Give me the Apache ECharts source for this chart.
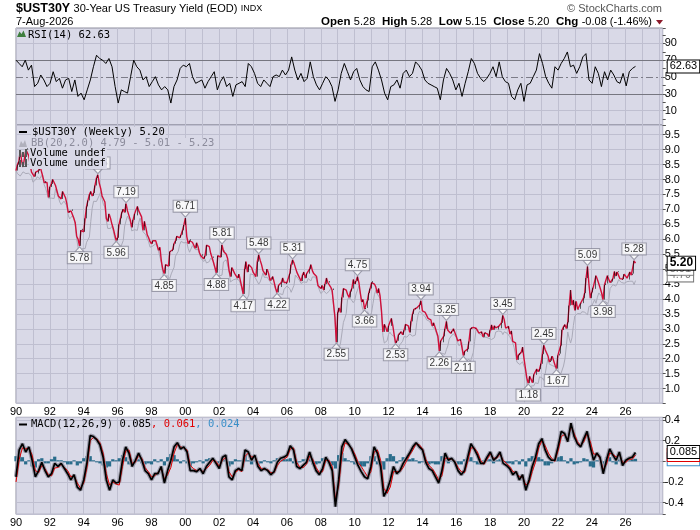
<!DOCTYPE html>
<html><head><meta charset="utf-8">
<script src="https://cdn.jsdelivr.net/npm/echarts@6/dist/echarts.min.js"></script>
<style>html,body{margin:0;padding:0;background:#fff}#c{width:700px;height:530px}</style>
</head><body><div id="c"></div>
<script>
// ---------------- data ----------------
const START_YEAR = 1990;
const LAST_DATE = 2026 + 7 / 12;           // Aug 2026
const X_DOMAIN = [1990, 2028.19];

// month-end yields, Jan 1990 .. Aug 2026
const monthlyClose = [
 8.30,8.50,8.60,8.95,8.62,8.42,8.45,9.00,9.05,8.80,8.50,8.25,
 8.20,8.10,8.25,8.20,8.30,8.45,8.40,8.10,7.90,7.95,7.90,7.40,
 7.75,7.85,8.00,7.95,7.80,7.80,7.45,7.40,7.35,7.60,7.60,7.40,
 7.20,6.90,6.95,6.95,7.00,6.70,6.55,6.10,6.00,5.78,6.30,6.35,
 6.25,6.70,7.10,7.30,7.50,7.60,7.45,7.55,7.80,8.05,8.16,7.88,
 7.70,7.45,7.40,7.25,6.70,6.60,6.85,6.70,6.50,6.35,6.15,5.96,
 6.05,6.50,6.70,6.90,7.00,6.90,7.19,6.95,6.95,6.65,6.40,6.65,
 6.85,6.80,7.10,6.95,6.90,6.75,6.30,6.60,6.40,6.15,6.05,5.92,
 5.85,5.95,5.95,5.95,5.80,5.63,5.73,5.27,5.00,4.85,5.15,5.10,
 5.10,5.58,5.60,5.65,5.85,5.95,6.10,6.05,6.05,6.15,6.30,6.48,
 6.71,6.10,5.85,5.95,6.00,5.90,5.80,5.70,5.88,5.75,5.55,5.45,
 5.50,5.35,5.45,5.80,5.75,5.75,5.52,5.38,5.42,5.05,4.88,5.45,
 5.45,5.40,5.81,5.60,5.62,5.50,5.35,4.95,4.75,5.05,5.05,4.85,
 4.85,4.70,4.83,4.80,4.40,4.17,5.00,5.25,4.90,5.15,5.10,5.05,
 4.90,4.85,4.75,5.25,5.48,5.30,5.15,4.95,4.90,4.80,5.00,4.85,
 4.62,4.65,4.75,4.55,4.35,4.22,4.45,4.40,4.55,4.70,4.55,4.50,
 4.55,4.55,4.85,5.15,5.31,5.20,5.05,4.90,4.80,4.75,4.60,4.80,
 4.90,4.70,4.85,4.85,5.00,5.15,4.95,4.85,4.85,4.75,4.45,4.45,
 4.35,4.45,4.30,4.50,4.70,4.55,4.60,4.40,4.30,4.35,3.40,2.55,
 3.55,3.70,3.55,4.05,4.35,4.30,4.30,4.15,4.05,4.25,4.35,4.65,
 4.50,4.60,4.75,4.55,4.20,3.90,3.98,3.66,3.70,3.95,4.20,4.35,
 4.55,4.60,4.50,4.40,4.20,4.35,4.10,3.60,2.90,3.15,3.05,2.90,
 3.10,3.10,3.35,3.12,2.80,2.53,2.60,2.80,2.85,2.90,2.80,2.95,
 3.15,3.10,3.10,2.88,3.25,3.50,3.65,3.70,3.70,3.65,3.80,3.94,
 3.60,3.60,3.55,3.45,3.35,3.35,3.30,3.10,3.20,3.05,2.90,2.75,
 2.26,2.60,2.55,2.75,3.00,3.25,2.95,2.95,2.85,2.92,3.00,3.00,
 2.75,2.60,2.60,2.65,2.65,2.11,2.25,2.23,2.32,2.58,3.00,3.05,
 3.05,3.00,3.02,2.95,2.86,2.84,2.90,2.73,2.86,2.88,2.83,2.74,
 2.95,3.13,2.97,3.10,3.03,2.98,3.08,3.02,3.20,3.45,3.30,3.02,
 3.00,3.08,2.82,2.93,2.58,2.53,2.53,1.96,2.12,2.18,2.21,2.39,
 2.00,1.68,1.35,1.18,1.41,1.41,1.20,1.47,1.46,1.65,1.57,1.65,
 1.83,2.15,2.45,2.30,2.29,2.09,1.89,1.93,2.08,1.93,1.78,1.67,
 2.11,2.17,2.44,2.96,3.07,3.14,3.01,3.22,3.78,4.30,3.80,3.96,
 3.62,3.92,3.65,3.67,3.85,3.86,4.02,4.20,4.70,5.09,4.50,4.03,
 4.22,4.38,4.34,4.78,4.65,4.51,4.36,4.20,3.98,4.47,4.52,4.78,
 4.79,4.55,4.58,4.68,4.92,4.77,4.90,4.93,4.68,4.64,4.67,4.83,
 4.80,4.70,4.65,4.90,4.80,4.85,5.28,5.20
];

const peakDates   = ['1994-11','1996-07','2000-01','2002-03','2004-05','2006-05','2010-03','2013-12','2015-06','2018-10','2021-03','2023-10','2026-07'];
const peakValues  = [8.16,7.19,6.71,5.81,5.48,5.31,4.75,3.94,3.25,3.45,2.45,5.09,5.28];
const troughDates = ['1993-10','1995-12','1998-10','2001-11','2003-06','2005-06','2008-12','2010-08','2012-06','2015-01','2016-06','2020-04','2021-12','2024-09'];
const troughValues= [5.78,5.96,4.85,4.88,4.17,4.22,2.55,3.66,2.53,2.26,2.11,1.18,1.67,3.98];

const rsi14 = [
 70.0,66.1,62.2,70.0,58.2,64.1,38.6,42.5,52.4,46.5,38.6,42.5,56.3,44.5,48.4,36.7,46.5,48.4,32.7,46.5,
 26.9,30.8,22.9,34.7,46.5,62.2,75.9,72.0,70.0,66.1,72.0,62.2,38.6,19.0,34.7,32.7,30.8,50.4,70.0,62.2,
 58.2,46.5,50.4,38.6,44.5,50.4,40.6,34.7,38.6,34.7,19.0,38.6,46.5,60.2,64.1,62.2,66.1,50.4,42.5,44.5,
 46.5,36.7,44.5,50.4,56.3,34.7,44.5,50.4,38.6,42.5,26.9,40.6,42.5,44.5,38.6,66.1,62.2,54.3,42.5,38.6,
 46.5,42.5,38.6,50.4,52.4,50.4,58.2,52.4,58.2,73.9,58.2,46.5,54.3,44.5,48.4,68.0,50.4,40.6,34.7,42.5,
 50.4,46.5,38.6,21.0,34.7,54.3,66.1,56.3,46.5,
 56.3,60.2,46.5,38.6,34.7,32.7,62.2,68.0,58.2,46.5,30.8,22.9,38.6,40.6,46.5,36.7,54.3,58.2,50.4,54.3,
 68.0,64.1,58.2,46.5,42.5,40.6,38.6,36.7,22.9,46.5,60.2,54.3,46.5,34.7,42.5,26.9,42.5,56.3,72.0,66.1,
 54.3,48.4,44.5,48.4,54.3,62.2,50.4,68.0,50.4,44.5,42.5,26.9,22.9,34.7,42.5,21.0,40.6,42.5,50.4,58.2,
 77.8,66.1,50.4,42.5,36.7,62.2,58.2,66.1,72.0,79.8,62.2,64.1,54.3,62.2,73.9,77.8,46.5,42.5,62.2,54.3,
 38.6,56.3,46.5,58.2,52.4,44.5,42.5,54.3,39.4,56.3,60.2,62.63
];
const rsiGuides = [10, 90];
const rsiBands = [30, 70];
const rsiCenter = [50];

const macdLine = [
 -0.15,0.11,0.17,0.09,0.14,0.01,-0.15,-0.09,-0.01,-0.09,-0.15,-0.12,-0.02,-0.05,-0.02,-0.07,-0.12,-0.18,-0.13,-0.25,
 -0.28,-0.18,-0.01,0.25,0.24,0.21,0.16,0.04,-0.18,-0.28,-0.18,-0.21,-0.20,0.01,0.14,0.08,-0.05,0.01,0.08,0.01,
 -0.09,-0.12,-0.18,-0.12,-0.12,-0.05,-0.21,-0.09,0.01,0.14,0.18,0.12,0.14,0.09,-0.09,-0.09,-0.10,-0.07,-0.12,-0.05,
 -0.01,0.03,-0.02,-0.07,0.04,0.06,-0.15,-0.18,-0.09,-0.07,-0.09,0.11,0.09,0.01,0.06,-0.05,-0.09,-0.07,-0.09,-0.13,
 -0.10,-0.01,0.03,0.04,0.06,0.15,0.11,-0.05,-0.07,-0.04,-0.01,0.09,-0.01,-0.09,-0.13,-0.07,0.04,-0.01,-0.09,-0.44,
 -0.18,0.14,0.21,0.17,
 0.12,0.04,-0.04,-0.10,-0.15,-0.17,-0.05,0.14,0.08,-0.05,-0.34,-0.28,-0.18,-0.05,-0.12,-0.09,-0.02,0.03,0.08,0.14,
 0.18,0.14,0.11,-0.01,-0.07,-0.09,-0.15,-0.21,-0.09,0.08,0.01,0.03,-0.01,-0.09,-0.13,-0.09,0.04,0.17,0.12,0.06,
 -0.02,-0.02,0.04,0.09,0.01,0.04,0.09,-0.02,-0.04,-0.07,-0.13,-0.10,-0.18,-0.13,-0.28,-0.18,-0.05,0.04,0.17,0.22,
 0.11,0.04,0.01,0.01,0.14,0.29,0.27,0.19,0.37,0.24,0.17,0.14,0.22,0.29,0.14,0.01,0.08,0.04,-0.12,0.01,
 0.12,0.06,0.01,0.09,-0.04,0.01,0.03,0.04,0.085
];
const macdHist = [
 0.05,0.09,0.04,-0.03,0.01,-0.05,-0.06,0.02,0.03,-0.02,-0.02,0.02,0.045,0.01,0.01,-0.01,-0.03,-0.03,0.01,-0.04,
 -0.02,0.03,0.05,0.05,0.01,-0.01,-0.02,-0.04,-0.06,-0.05,0.02,0.01,0.03,0.06,0.04,-0.03,-0.03,0.02,0.02,-0.02,
 -0.03,-0.02,-0.03,0.02,-0.01,0.02,-0.04,0.04,0.07,0.06,0.02,-0.02,0.01,-0.02,-0.05,-0.02,-0.01,0.01,-0.02,0.02,
 0.03,0.02,-0.02,-0.02,0.03,0.02,-0.05,-0.03,0.02,0.01,0.01,0.06,0.01,-0.03,0.01,-0.03,-0.02,0.01,-0.01,-0.02,
 0.01,0.03,0.03,0.02,0.02,0.03,-0.02,-0.04,-0.01,0.02,0.02,0.04,-0.03,-0.03,-0.02,0.03,0.03,-0.02,-0.04,-0.07,
 0.06,0.08,0.03,0.01,
 -0.01,-0.03,-0.03,-0.05,-0.05,-0.02,0.05,0.05,-0.03,-0.06,-0.08,0.03,0.07,0.05,-0.02,0.01,0.04,0.03,0.02,0.03,
 0.01,-0.02,-0.01,-0.03,-0.03,-0.02,-0.03,-0.03,0.05,0.05,-0.02,0.01,-0.01,-0.03,-0.03,0.02,0.04,0.04,-0.01,-0.03,
 -0.03,0.01,0.02,0.02,-0.02,0.01,0.02,-0.03,-0.02,-0.02,-0.03,0.01,-0.03,0.02,-0.05,0.03,0.05,0.05,0.04,0.02,
 -0.04,-0.04,-0.02,0.01,0.04,0.05,0.01,-0.02,0.03,-0.03,-0.02,-0.01,0.03,0.02,-0.05,-0.06,0.01,0.01,-0.04,0.04,
 0.04,-0.01,-0.03,0.02,-0.03,0.02,0.01,0.02,0.024
];

const lastBar = [5.28, 5.28, 5.15, 5.20];   // open high low close
const lastChange = [-0.08, -1.46];
const bbLegend = [4.79, 5.01, 5.23];        // lower, mid, upper
const macdLegend = [0.085, 0.061, 0.024];   // macd, signal, histogram
const rsiLast = 62.63;

// ---------------- derived ----------------
const monthX = i => START_YEAR + i / 12;
const dateX = s => { const p = s.split('-').map(Number); return p[0] + (p[1] - 1) / 12; };
const spread = arr => arr.map((v, i) => [START_YEAR + i * (LAST_DATE - START_YEAR) / (arr.length - 1), v]);

const closeData = monthlyClose.map((c, i) => [monthX(i), c]);
const candles = monthlyClose.map((c, i) => {
  const o = i ? monthlyClose[i - 1] : c;
  return [monthX(i), o, c, Math.min(o, c), Math.max(o, c)];
});
const bbLow = [], bbSpan = [];
monthlyClose.forEach((c, i) => {
  const w = monthlyClose.slice(Math.max(0, i - 4), i + 1);
  const m = w.reduce((a, b) => a + b, 0) / w.length;
  const sd = Math.sqrt(w.reduce((a, b) => a + (b - m) * (b - m), 0) / w.length);
  bbLow.push([monthX(i), m - 2 * sd]);
  bbSpan.push([monthX(i), 4 * sd]);
});
const peaks = peakDates.map((d, i) => [dateX(d), peakValues[i]]);
const troughs = troughDates.map((d, i) => [dateX(d), troughValues[i]]);
const macdData = spread(macdLine);
const histData = spread(macdHist);
const signalData = macdLine.map((v, i) => [macdData[i][0], +(v - macdHist[i]).toFixed(4)]);
const rsiData = spread(rsi14);

// ---------------- styles ----------------
const SANS = '"Liberation Sans", Arial, sans-serif';
const MONO = '"DejaVu Sans Mono", monospace';
const BG = '#d9d9e7', GRID = '#bfbfd0', BORDER = '#8e8e9e';
const RED = '#d0103a';

const chart = echarts.init(document.getElementById('c'), null, {renderer: 'canvas'});

const mkX = (gi, labels) => ({
  type: 'value', gridIndex: gi, min: X_DOMAIN[0], max: X_DOMAIN[1], interval: 1,
  axisLine: {show: false}, axisTick: {show: false},
  splitLine: {show: true, lineStyle: {color: GRID, width: 1}},
  axisLabel: {show: labels, margin: 3, fontSize: 11, color: '#000', fontFamily: SANS,
    showMaxLabel: false, showMinLabel: true,
    formatter: v => (Number.isInteger(v) && v % 2 === 0 && v < 2028) ? String(v % 100).padStart(2, '0') : ''}
});
const yCommon = {
  type: 'value', position: 'right',
  axisLine: {show: false},
  axisTick: {show: true, length: 3, lineStyle: {color: '#555'}},
};
const tag = (v, txt, color, bold) => ({
  yAxis: v, lineStyle: {color: 'transparent', width: 0},
  label: {show: true, position: 'end', distance: 5, formatter: txt,
    backgroundColor: '#fff', borderColor: color, borderWidth: 1, padding: [1, 2, 0, 2],
    color: color, fontSize: bold ? 12 : 11, fontWeight: bold ? 'bold' : 'normal', fontFamily: SANS}
});
const guide = (v, color, type) => ({yAxis: v, lineStyle: {color: color, width: 1, type: type || 'solid'}, label: {show: false}});
const swingLabel = {
  show: true, formatter: p => p.value[1].toFixed(2),
  backgroundColor: '#fff', borderColor: '#8a8a9a', borderWidth: 1, padding: [1, 2, 0, 2],
  fontSize: 10, lineHeight: 10, fontFamily: SANS, color: '#000'
};

const option = {
  animation: false,
  backgroundColor: '#fff',
  grid: [
    {left: 16, right: 37.3, top: 28, height: 97, show: true, backgroundColor: BG, borderColor: BORDER, borderWidth: 1},
    {left: 16, right: 37.3, top: 125, height: 278.3, show: true, backgroundColor: BG, borderColor: BORDER, borderWidth: 1},
    {left: 16, right: 37.3, top: 417.3, height: 97, show: true, backgroundColor: BG, borderColor: BORDER, borderWidth: 1}
  ],
  xAxis: [mkX(0, false), mkX(1, true), mkX(2, true)],
  yAxis: [
    Object.assign({}, yCommon, {gridIndex: 0, min: -7.1, max: 108.3, splitNumber: 11, minInterval: 10, maxInterval: 10,
      splitLine: {show: false},
      axisLabel: {margin: 2, fontSize: 11, color: '#000', fontFamily: SANS,
        formatter: v => ([10, 30, 50, 70, 90].indexOf(Math.round(v)) >= 0 && Math.abs(v - Math.round(v)) < 1e-6) ? String(Math.round(v)) : ''}}),
    Object.assign({}, yCommon, {gridIndex: 1, min: 0.507, max: 9.826, splitNumber: 19, minInterval: 0.5, maxInterval: 0.5,
      splitLine: {show: true, lineStyle: {color: GRID}},
      axisLabel: {margin: 2, fontSize: 11, color: '#000', fontFamily: SANS,
        formatter: v => Math.abs(v * 2 - Math.round(v * 2)) < 1e-6 ? v.toFixed(1) : ''}}),
    Object.assign({}, yCommon, {gridIndex: 2, min: -0.513, max: 0.426, splitNumber: 5, minInterval: 0.2, maxInterval: 0.2,
      splitLine: {show: true, lineStyle: {color: GRID}},
      axisLabel: {margin: 2, fontSize: 11, color: '#000', fontFamily: SANS,
        formatter: v => (Math.abs(v) < 1e-9 || Math.abs(v * 5 - Math.round(v * 5)) > 1e-6) ? '' : v.toFixed(1)}})
  ],
  series: [
    {type: 'line', name: 'RSI', xAxisIndex: 0, yAxisIndex: 0, data: rsiData, symbol: 'none',
      lineStyle: {color: '#000', width: 1}, silent: true, z: 3,
      markLine: {silent: true, symbol: 'none', animation: false, z: 2, data: [
        ...rsiGuides.map(v => guide(v, GRID)),
        ...rsiBands.map(v => guide(v, '#767680')),
        ...rsiCenter.map(v => guide(v, '#7c7c88', [7, 3, 2, 3])),
        tag(rsiLast, rsiLast.toFixed(2), '#000', false)
      ]}},
    {type: 'line', name: 'bbLow', xAxisIndex: 1, yAxisIndex: 1, data: bbLow, stack: 'bb', symbol: 'none',
      lineStyle: {color: '#aaaab8', width: 1}, silent: true, z: 1},
    {type: 'line', name: 'bbBand', xAxisIndex: 1, yAxisIndex: 1, data: bbSpan, stack: 'bb', symbol: 'none',
      lineStyle: {color: '#aaaab8', width: 1}, areaStyle: {color: '#c4c4cd', opacity: 1}, silent: true, z: 1},
    {type: 'line', name: 'close', xAxisIndex: 1, yAxisIndex: 1, data: closeData, symbol: 'none',
      lineStyle: {color: RED, width: 1.4}, silent: true, z: 3},
    {type: 'candlestick', name: 'upBars', xAxisIndex: 1, yAxisIndex: 1, data: candles,
      encode: {x: 0, y: [1, 2, 3, 4]}, barWidth: 1.2, silent: true, z: 4,
      itemStyle: {color: '#000', color0: 'transparent', borderColor: '#000', borderColor0: 'transparent', borderWidth: 0.6},
      markLine: {silent: true, symbol: 'none', animation: false, data: [
        tag(bbLegend[0], bbLegend[0].toFixed(2), '#777', false),
        tag(bbLegend[1], bbLegend[1].toFixed(2), '#777', false),
        tag(lastBar[3], lastBar[3].toFixed(2), '#000', true)
      ]}},
    {type: 'scatter', name: 'peaks', xAxisIndex: 1, yAxisIndex: 1, data: peaks, z: 5, silent: true,
      symbol: 'path://M0,0L10,0L5,6Z', symbolSize: [9, 5], symbolOffset: [0, -3.5],
      itemStyle: {color: '#fff', borderColor: '#8a8a9a', borderWidth: 1},
      label: Object.assign({}, swingLabel, {position: 'top', distance: 0})},
    {type: 'scatter', name: 'troughs', xAxisIndex: 1, yAxisIndex: 1, data: troughs, z: 5, silent: true,
      symbol: 'path://M5,0L10,6L0,6Z', symbolSize: [9, 5], symbolOffset: [0, 3.5],
      itemStyle: {color: '#fff', borderColor: '#8a8a9a', borderWidth: 1},
      label: Object.assign({}, swingLabel, {position: 'bottom', distance: 0})},
    {type: 'bar', name: 'hist', xAxisIndex: 2, yAxisIndex: 2, data: histData, barWidth: '100%',
      itemStyle: {color: '#2a6d8c'}, silent: true, z: 1},
    {type: 'line', name: 'halo', xAxisIndex: 2, yAxisIndex: 2, data: macdData, symbol: 'none',
      lineStyle: {color: '#9c9cab', width: 4}, silent: true, z: 2},
    {type: 'line', name: 'signal', xAxisIndex: 2, yAxisIndex: 2, data: signalData, symbol: 'none',
      lineStyle: {color: '#e00000', width: 1}, silent: true, z: 3},
    {type: 'line', name: 'macd', xAxisIndex: 2, yAxisIndex: 2, data: macdData, symbol: 'none',
      lineStyle: {color: '#000', width: 1.7}, silent: true, z: 4,
      markLine: {silent: true, symbol: 'none', animation: false, data: [
        tag(macdLegend[2], macdLegend[2].toFixed(3), '#3a8fc8', false),
        tag(macdLegend[1], macdLegend[1].toFixed(3), '#e00000', false),
        tag(macdLegend[0], macdLegend[0].toFixed(3), '#000', false)
      ]}}
  ],
  graphic: [
    {type: 'text', z: 100, style: {x: 16, y: 9, align: 'left', verticalAlign: 'middle', textAlign: 'left', textVerticalAlign: 'middle',
      text: '{t|$UST30Y} {s|30-Year US Treasury Yield (EOD)} {i|INDX}',
      rich: {t: {font: 'bold 12.5px ' + SANS, fill: '#000'}, s: {font: '11px ' + SANS, fill: '#000'}, i: {font: '9px ' + SANS, fill: '#000'}}}},
    {type: 'text', z: 100, style: {x: 16, y: 22, align: 'left', verticalAlign: 'middle', textAlign: 'left', textVerticalAlign: 'middle',
      text: '7-Aug-2026', font: '11px ' + SANS, fill: '#000'}},
    {type: 'text', z: 100, style: {x: 662, y: 9, align: 'right', verticalAlign: 'middle', textAlign: 'right', textVerticalAlign: 'middle',
      text: '\u00A9 StockCharts.com', font: '11px ' + SANS, fill: '#555'}},
    {type: 'text', z: 100, style: {x: 652, y: 22, align: 'right', verticalAlign: 'middle', textAlign: 'right', textVerticalAlign: 'middle',
      text: '{b|Open} {v|' + lastBar[0].toFixed(2) + '}  {b|High} {v|' + lastBar[1].toFixed(2) + '}  {b|Low} {v|' + lastBar[2].toFixed(2) +
        '}  {b|Close} {v|' + lastBar[3].toFixed(2) + '}  {b|Chg} {v|' + lastChange[0].toFixed(2) + ' (' + lastChange[1].toFixed(2) + '%)}',
      rich: {b: {font: 'bold 11.5px ' + SANS, fill: '#000'}, v: {font: '11px ' + SANS, fill: '#000'}}}},
    {type: 'polygon', z: 100, shape: {points: [[656, 20], [663, 20], [659.5, 24.5]]}, style: {fill: '#8b1a2a'}},

    // RSI legend
    {type: 'polygon', z: 100, shape: {points: [[17, 37], [19.5, 31.5], [21.5, 34], [23.5, 30.5], [26, 37]]}, style: {fill: '#3f7f3f'}},
    {type: 'text', z: 100, style: {x: 28, y: 35, align: 'left', verticalAlign: 'middle', textAlign: 'left', textVerticalAlign: 'middle',
      text: 'RSI(14) ' + rsiLast.toFixed(2), font: '10.5px ' + MONO, fill: '#000'}},

    // price legend
    {type: 'rect', z: 100, shape: {x: 19, y: 131, width: 8, height: 2}, style: {fill: '#000'}},
    {type: 'text', z: 100, style: {x: 31, y: 132.5, align: 'left', verticalAlign: 'middle', textAlign: 'left', textVerticalAlign: 'middle',
      text: '$UST30Y (Weekly) ' + lastBar[3].toFixed(2), font: '10.5px ' + MONO, fill: '#000', backgroundColor: BG, padding: [0, 1]}},
    {type: 'polygon', z: 100, shape: {points: [[19, 147], [21, 141], [23, 144], [25, 140], [27, 147]]}, style: {fill: '#b0b0bc'}},
    {type: 'text', z: 100, style: {x: 30, y: 143.5, align: 'left', verticalAlign: 'middle', textAlign: 'left', textVerticalAlign: 'middle',
      text: 'BB(20,2.0) ' + bbLegend[0].toFixed(2) + ' - ' + bbLegend[1].toFixed(2) + ' - ' + bbLegend[2].toFixed(2),
      font: '10.5px ' + MONO, fill: '#8c8c9c', backgroundColor: BG, padding: [0, 1]}},
    {type: 'rect', z: 100, shape: {x: 19, y: 150, width: 2, height: 7}, style: {fill: '#555'}},
    {type: 'rect', z: 100, shape: {x: 22, y: 152, width: 2, height: 5}, style: {fill: '#555'}},
    {type: 'rect', z: 100, shape: {x: 25, y: 149, width: 2, height: 8}, style: {fill: '#555'}},
    {type: 'text', z: 100, style: {x: 29, y: 153.5, align: 'left', verticalAlign: 'middle', textAlign: 'left', textVerticalAlign: 'middle',
      text: 'Volume undef', font: '10.5px ' + MONO, fill: '#000', backgroundColor: BG, padding: [0, 1]}},
    {type: 'rect', z: 100, shape: {x: 19, y: 160, width: 2, height: 7}, style: {fill: '#555'}},
    {type: 'rect', z: 100, shape: {x: 22, y: 162, width: 2, height: 5}, style: {fill: '#555'}},
    {type: 'rect', z: 100, shape: {x: 25, y: 159, width: 2, height: 8}, style: {fill: '#555'}},
    {type: 'text', z: 100, style: {x: 29, y: 163.5, align: 'left', verticalAlign: 'middle', textAlign: 'left', textVerticalAlign: 'middle',
      text: 'Volume undef', font: '10.5px ' + MONO, fill: '#000', backgroundColor: BG, padding: [0, 1]}},

    // MACD legend
    {type: 'rect', z: 100, shape: {x: 19, y: 423.5, width: 8, height: 2}, style: {fill: '#000'}},
    {type: 'text', z: 100, style: {x: 31, y: 424.5, align: 'left', verticalAlign: 'middle', textAlign: 'left', textVerticalAlign: 'middle',
      text: '{a|MACD(12,26,9) ' + macdLegend[0].toFixed(3) + '}{b|, ' + macdLegend[1].toFixed(3) + '}{c|, ' + macdLegend[2].toFixed(3) + '}',
      rich: {a: {font: '10.5px ' + MONO, fill: '#000'}, b: {font: '10.5px ' + MONO, fill: '#e00000'}, c: {font: '10.5px ' + MONO, fill: '#3a8fc8'}}}}
  ]
};
chart.setOption(option);
</script>
</body></html>
